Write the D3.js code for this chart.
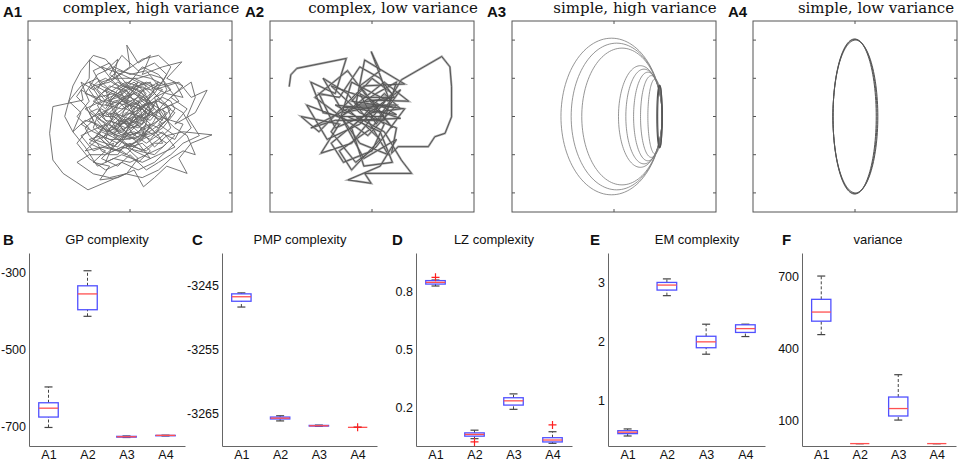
<!DOCTYPE html>
<html>
<head>
<meta charset="utf-8">
<script src="https://d3js.org/d3.v7.min.js"></script>
<style>
  body { margin: 0; background: #fff; }
  text { font-family: "Liberation Sans", Arial, sans-serif; }
</style>
</head>
<body>
<svg id="svgMain" width="959" height="463"></svg>
<script>
// ---------- data ----------
const cats = ["A1", "A2", "A3", "A4"];

// trajectories (units, box spans -2.5..2.5)
const a1Path = [[0.1,0.2],[-0.3,0.5],[0.2,0.9],[-0.1,0.4],[-0.6,0.7],[-0.4,0.1],[0.3,-0.2],[0.6,0.3],[0.2,0.6],[0.7,0.9],[0.4,0.4],[0.9,0.1],[0.5,-0.3],[0.1,-0.6],[-0.4,-0.3],[-0.8,0.1],[-0.5,0.6],[-1.0,0.9],[-0.7,0.4],[-1.1,0.2],[-0.6,-0.2],[-0.9,-0.6],[-0.3,-0.8],[0.0,-0.4],[0.4,-0.7],[0.8,-0.4],[1.1,-0.8],[0.7,-1.0],[0.3,-1.2],[-0.2,-1.0],[-0.6,-1.2],[-0.4,-0.7],[-0.9,-0.9],[-1.2,-0.5],[-0.8,-0.3],[-1.1,0.3],[-1.31,0.52],[-1.0,1.0],[-0.99,1.48],[-0.6,1.2],[-0.3,1.5],[-0.4,1.0],[0.0,1.3],[-0.08,1.87],[0.2,1.4],[0.5,1.6],[0.3,1.1],[0.8,1.3],[1.27,1.43],[0.9,1.0],[1.3,0.8],[1.0,0.5],[1.4,0.2],[1.1,-0.2],[1.6,0.1],[1.89,0.69],[1.5,0.5],[1.2,0.9],[0.6,0.7],[0.3,0.2],[-0.2,0.0],[0.0,0.6],[-0.4,0.9],[-0.7,1.3],[-0.2,1.1],[0.4,0.8],[0.1,0.4],[0.5,0.0],[0.2,-0.3],[-0.3,-0.1],[-0.1,-0.5],[0.3,-0.4],[0.6,-0.8],[0.9,-0.5],[1.3,-0.4],[2.01,-0.48],[1.5,-0.7],[1.2,-1.1],[1.40,-1.49],[0.9,-1.3],[0.6,-1.6],[0.33,-1.84],[0.1,-1.4],[-0.3,-1.6],[-0.74,-1.66],[-0.5,-1.3],[-0.9,-1.2],[-0.6,-0.9],[-1.0,-0.7],[-0.7,-0.4],[-0.3,-0.6],[0.1,-0.9],[0.5,-1.1],[0.2,-0.7],[-0.2,-0.3],[-0.5,-0.5],[-0.8,-0.1],[-0.4,0.3],[-0.9,0.5],[-1.2,0.7],[-1.15,0.43],[-1.89,0.26],[-1.97,-0.44],[-1.89,-1.14],[-1.64,-1.49],[-1.03,-1.92],[-0.08,-1.49],[0.2,-1.1],[-0.1,-0.8],[0.4,-0.5],[0.1,-0.1],[0.5,0.2],[0.2,0.5],[-0.2,0.3],[-0.5,0.0],[-0.3,-0.4],[0.1,-0.2],[0.4,0.1],[0.8,-0.1],[0.6,0.5],[1.0,0.7],[0.7,1.1],[0.3,1.3],[0.0,0.9],[-0.3,0.6],[-0.7,0.8],[-0.9,1.2],[-0.5,1.4],[-0.2,0.8],[0.2,0.7],[0.5,0.4],[0.3,0.0],[-0.1,0.1],[-0.4,-0.2],[-0.7,-0.6],[-0.4,-0.9],[0.0,-0.7],[0.3,-0.9],[0.7,-0.6],[1.0,-0.3],[0.8,0.2],[1.2,0.4],[0.9,0.8],[0.5,1.0],[0.1,1.1],[-0.3,1.2],[-0.6,0.9],[-0.9,0.7],[-1.2,0.9],[-1.0,0.4],[-1.3,0.0],[-1.0,-0.3],[-1.3,-0.7],[-1.0,-1.1],[-0.6,-1.4],[-0.2,-1.2],[0.2,-1.4],[0.6,-1.2],[0.9,-0.9],[1.2,-0.6],[1.5,-0.3],[1.3,0.1],[1.0,0.3],[0.6,0.1],[0.2,-0.1],[-0.1,0.3],[-0.5,0.4],[-0.2,0.7],[0.1,0.9],[0.4,0.6],[0.0,0.2],[-0.3,-0.2],[0.0,-0.5],[0.4,-0.3],[0.7,-0.1],[0.4,0.3],[0.1,0.0],[-0.2,-0.6],[-0.6,-0.3],[-0.3,0.1],[0.1,0.4],[-0.1,0.7],[-0.5,0.5],[-0.8,0.3],[-0.6,-0.1],[-0.2,-0.2],[0.2,0.1],[0.5,-0.2],[0.3,-0.6],[-0.1,-1.0],[-0.5,-0.8],[-0.8,-0.5],[-0.5,-0.1],[-0.1,-0.3],[0.3,0.3],[0.7,0.4],[1.1,0.1],[0.8,-0.3],[0.5,-0.5],[0.1,-0.7],[-0.3,-0.9],[-0.7,-0.8],[-1.1,-0.9],[-0.8,-0.6],[-0.4,-0.4],[0.0,0.0],
  [0.3,0.5],[-0.1,0.8],[-0.5,1.1],[-0.2,1.6],[0.2,1.2],[0.6,1.4],[0.9,1.1],[0.6,0.6],[1.0,0.2],[0.7,-0.2],[1.1,-0.5],[0.8,-0.8],[0.4,-1.0],[0.0,-1.2],[-0.4,-1.1],[-0.8,-1.3],[-1.1,-0.8],[-1.4,-0.4],[-1.2,0.1],[-1.5,0.4],[-1.2,0.8],[-0.8,1.0],[-0.5,0.7],[-0.1,0.5],[0.3,0.7],[0.6,0.2],[0.3,-0.1],[-0.1,-0.2],[-0.4,0.0],[-0.7,0.2],[-1.0,-0.1],[-0.7,-0.3],[-0.3,-0.5],[0.1,-0.4],[0.5,-0.6],[0.8,-0.2],[0.5,0.1],[0.2,0.4],[-0.2,0.2],[-0.6,0.3],[-0.3,0.7],[0.1,1.0],[0.5,0.8],[0.9,0.6],[1.3,0.5],[1.1,0.9],[0.7,0.8],[0.4,1.2],[0.0,1.1],[-0.4,1.3],[-0.8,1.1],[-1.1,0.6],[-0.8,0.5],[-0.4,0.6],[0.0,0.4],[0.4,0.2],[0.7,0.0],[1.0,-0.1],[1.3,-0.2],[1.1,-0.6],[0.7,-0.4],[0.3,-0.5],[-0.1,-0.6],[-0.5,-0.6],[-0.9,-0.4],[-1.2,-0.2],[-0.9,0.0],[-0.5,0.2],[-0.2,0.4],[0.2,0.2],[0.5,0.4],[0.8,0.7],[0.4,0.9],[0.0,0.7],[-0.3,0.9],[-0.7,0.6],[-1.0,0.2],[-0.7,-0.1],[-0.4,-0.3],[0.0,-0.1],[0.3,-0.3],[0.6,-0.5],[0.9,-0.7],[0.6,-1.0],[0.2,-0.9],[-0.2,-0.8],[-0.6,-1.0],[-1.0,-1.0],[-1.3,-1.2],[-0.9,-1.5],[-0.5,-1.6],[-0.1,-1.5],[0.3,-1.6],[0.7,-1.4],[1.0,-1.1],[1.3,-0.9],[1.6,-1.0],[1.4,-0.5],[1.1,-0.3],[0.8,0.0],[0.5,0.3],[0.1,0.6],[-0.2,1.0],[-0.6,1.5],[-0.9,1.6],[-1.2,1.2],[-1.4,0.8],[-1.6,0.0],[-1.4,-0.4],[-1.1,-0.1],[-0.8,-0.2],[-0.5,-0.4],[-0.2,-0.1],[0.2,0.0],[0.5,-0.1],[0.8,0.3],[1.1,0.6],[1.5,0.9],[1.6,0.5],[1.4,0.0],[1.7,-0.5],[1.3,-0.7],[1.0,-1.0],[0.7,-1.2],[0.4,-1.4],[0.0,-1.0],[-0.3,-1.3],[-0.7,-1.1],[-0.4,-0.8],[-0.1,-0.4],[0.2,-0.2],[0.0,0.3],[-0.3,0.5],[-0.6,0.4],[-0.9,0.8],[-0.5,0.9],[-0.1,1.2],[0.3,1.5],[0.7,1.6],[1.0,1.3],[0.8,0.9],[0.5,0.7],[0.1,0.8],[-0.3,0.3],[-0.5,-0.2],[-0.2,-0.5],[0.2,-0.6],[0.6,-0.3],[0.9,-0.1],[0.6,0.4],[0.3,0.1],[0.0,-0.2],[-0.4,0.1],[-0.7,0.0],[-0.4,0.4],[0.0,0.5],[0.3,0.9],[0.7,0.5],[0.4,0.0],[0.1,-0.3],[-0.3,-0.7],[-0.7,-0.5],[-1.0,-0.6],[-0.6,-0.8],[-0.2,-0.9],[0.2,-1.2],[0.5,-0.9],[0.3,-0.7],[0.0,-0.8],[-0.4,-0.5],[-0.1,0.0],
  [0.2,0.3],[0.4,0.1],[0.3,-0.2],[0.0,-0.3],[-0.2,-0.1],[-0.4,0.2],[-0.2,0.5],[0.1,0.6],[0.4,0.4],[0.6,0.6],[0.5,0.9],[0.2,0.8],[-0.1,0.9],[-0.4,0.7],[-0.6,0.5],[-0.8,0.7],[-0.7,0.9],[-0.4,1.0],[-0.1,1.0],[0.2,1.0],[0.5,1.1],[0.8,1.0],[0.9,0.7],[0.7,0.4],[0.9,0.3],[1.0,0.0],[0.8,-0.2],[0.6,-0.4],[0.4,-0.2],[0.2,-0.4],[0.0,-0.6],[-0.3,-0.5],[-0.5,-0.7],[-0.7,-0.5],[-0.9,-0.3],[-0.8,0.0],[-0.6,0.1],[-0.4,-0.1],[-0.2,0.1],[0.0,0.3],[0.3,0.2],[0.5,0.0],[0.7,0.2],[0.6,-0.1],[0.4,-0.4],[0.2,-0.6],[0.0,-0.8],[-0.2,-0.6],[-0.4,-0.8],[-0.6,-0.6],[-0.5,-0.3],[-0.3,-0.2],[-0.1,-0.4],[0.1,-0.1],[0.3,0.0],[0.2,0.4],[0.0,0.5],[-0.2,0.7],[-0.5,0.8],[-0.7,0.6],[-0.9,0.4],[-0.7,0.3],[-0.5,0.3],[-0.3,0.4],[-0.1,0.2],[0.1,0.1],[0.3,-0.1],[0.5,-0.3],[0.7,-0.5],[0.8,-0.7],[0.6,-0.7],[0.4,-0.9],[0.1,-0.8],[-0.1,-0.7],[-0.3,-1.0],[-0.5,-1.0],[-0.7,-0.9],[-0.8,-0.7],[-1.0,-0.5],[-1.1,-0.3],[-0.9,-0.1],[-1.0,0.1],[-0.8,0.2],[-0.6,0.0],[-0.4,0.0],[-0.2,-0.2],[0.0,0.0],[0.2,0.2],[0.4,0.3],[0.6,0.4],[0.8,0.5],[1.0,0.4],[1.1,0.2],[0.9,-0.1],[0.7,-0.3],[0.5,-0.2],[0.3,-0.3],[0.1,-0.5],[-0.1,-0.2],[-0.3,0.0],[-0.5,0.1],[-0.3,0.3],[-0.1,0.5],[0.1,0.7],[0.3,0.8],[0.5,0.6],[0.3,0.4],[0.1,0.3],[-0.1,0.4],[-0.3,0.8],[-0.6,1.0],[-0.8,0.9],[-1.0,0.7],[-0.8,0.4],[-0.6,0.2],[-0.4,0.5],[-0.2,0.6],[0.0,0.8],[0.3,0.6],[0.5,0.2],[0.3,-0.5],[0.1,-0.3],[-0.1,-0.1],[-0.3,-0.3],[-0.6,-0.4],[-0.8,-0.3],[-0.6,-0.2],[-0.4,-0.5],[-0.2,-0.4],[0.0,-0.2],[0.2,0.0]];

const a2Path = [[-2.03,0.78],[-1.99,1.09],[-1.84,1.26],[-0.63,1.52],[-0.9,0.6],[-1.5,0.9],[-1.2,0.1],[-0.76,0.0],[0.3,0.0],[-0.3,0.8],[0.2,1.2],[-0.02,1.70],[0.4,0.5],[-0.5,-0.7],[-1.25,-0.96],[-0.8,-0.2],[-1.74,0.0],[-1.3,-0.4],[-0.2,0.8],[0.8,0.85],[-0.18,1.48],[-0.4,0.3],[0.6,0.3],[-0.1,-0.5],[-0.76,0.0],[-1.4,0.5],[-0.6,1.2],[0.1,0.2],[0.5,-0.3],[-0.02,0.43],[0.9,0.4],[0.3,0.9],[-0.76,0.0],[-0.2,-1.1],[0.6,-0.6],[0.2,-1.3],[-0.59,-1.66],[-0.02,-1.75],[-0.18,-1.49],[0.97,-1.49],[0.72,-1.14],[0.3,-0.4],[-0.9,0.3],[0.0,0.2],[0.7,-0.05],[-0.6,-0.1],[-1.6,0.3],[-1.1,-0.6],[-0.3,-0.2],[0.5,0.6],[0.0,1.0],[-0.5,0.4],[0.8,0.2],[0.1,-0.8],[-0.4,-1.2],[-1.0,-0.4],[-0.76,0.0],[-0.5,0.9],[0.4,0.4],[0.72,0.96],[1.71,1.57],[1.91,1.30],[1.95,0.78],[1.95,-0.01],[1.79,-0.44],[1.54,-0.53],[1.38,-0.79],[0.64,-0.79],[0.48,-0.96],[0.6,-0.3],[-0.3,0.1],[-1.0,0.8],[-0.2,0.5],[0.5,0.5],[0.0,-0.3],[-0.8,-0.9],[-0.5,-1.4],[0.2,-0.6],[-0.6,0.2],[-1.5,-0.3],[-0.9,-0.1],[0.3,-0.1],[0.6,0.9],[0.1,0.6],[-0.76,0.0],[-0.3,-0.7],[0.4,-1.0],[-0.1,-0.1],[-0.6,0.6],[-1.2,1.0],[-0.7,0.1],[0.2,0.3],
  [0.5,0.25],[-0.7,0.25],[0.6,0.05],[-0.3,0.6],[0.1,-0.2],[0.7,0.7],[-0.2,0.0],[-1.0,-0.7],[-0.7,-1.2],[0.0,-0.9],[0.3,-0.2],[-0.4,0.35],[0.55,0.5],[0.2,1.0],[-0.3,1.3],[-0.8,0.5],[-1.3,0.6],[-0.9,-0.3],[0.0,0.1],[0.7,0.2],[0.3,0.6],[-0.5,-0.3],[-0.2,-1.3],[0.5,-1.2],[0.2,-0.4],[-0.6,0.0]];

// A3: decaying orbits, left edge and half-height of each loop (right edge shared)
const a3Left = [-1.30, -1.05, -0.79, 0.11, 0.29, 0.48, 0.65, 0.83, 1.05, 1.07];
const a3Half = [2.05, 1.92, 1.79, 1.33, 1.24, 1.16, 1.07, 0.98, 0.82, 0.80];
const a3Right = 1.18;
// A4: limit cycle, a few overlapping loops [cx, rx, ry]
const a4Loops = [[0.0, 0.54, 2.02], [0.01, 0.55, 2.0], [-0.01, 0.53, 2.03]];

const topTitles = ["complex, high variance", "complex, low variance", "simple, high variance", "simple, low variance"];

// box stats: [lower whisker, q1, median, q3, upper whisker]
const gpStats  = [[-702, -675, -652, -638, -597], [-414, -397, -356, -335, -296], [-728, -727, -726, -725, -724], [-724, -723.5, -722.5, -722.5, -722]];
const pmpStats = [[-3248.4, -3247.5, -3246.8, -3246.35, -3246.2], [-3266.1, -3265.8, -3265.67, -3265.5, -3265.3], [-3266.95, -3266.9, -3266.85, -3266.8, -3266.75], [-3267.1, -3267.1, -3267.1, -3267.1, -3267.1]];
const lzStats  = [[0.829, 0.839, 0.848, 0.857, 0.86], [0.038, 0.051, 0.06, 0.068, 0.082], [0.19, 0.212, 0.234, 0.25, 0.27], [0.014, 0.021, 0.031, 0.043, 0.074]];
const emStats  = [[0.39, 0.43, 0.455, 0.48, 0.51], [2.775, 2.87, 2.955, 3.0, 3.06], [1.78, 1.89, 1.99, 2.085, 2.29], [2.08, 2.15, 2.215, 2.28, 2.29]];
const varStats = [[456, 512, 550, 603, 700], [2, 2, 2, 2, 2], [100, 117, 148, 196, 289], [2, 2, 2, 2, 2]];

// outliers [category index, value]
const gpOut  = [];
const pmpOut = [[3, -3267.1]];
const lzOut  = [[0, 0.874], [1, 0.021], [3, 0.109]];
const emOut  = [];
const varOut = [];

const gpTicks  = [-700, -500, -300];
const pmpTicks = [-3265, -3255, -3245];
const lzTicks  = [0.2, 0.5, 0.8];
const emTicks  = [1, 2, 3];
const varTicks = [100, 400, 700];

// ---------- drawing ----------
const svg = d3.select("#svgMain");

// top row: trajectory panels
const topBoxes = [28, 270, 512, 753];
const topW = 204, topY0 = 21, topY1 = 212;

const ellipsePath = (cx, rx, ry, xs, ys) => {
    const p = d3.path();
    const n = 120;
    for (let i = 0; i <= n; i++) {
        const a = 2 * Math.PI * i / n;
        const px = xs(cx + rx * Math.cos(a)), py = ys(ry * Math.sin(a));
        if (i === 0) p.moveTo(px, py); else p.lineTo(px, py);
    }
    return p.toString();
};

topBoxes.forEach((x0, k) => {
    const xs = d3.scaleLinear().domain([-2.5, 2.5]).range([x0, x0 + topW]);
    const ys = d3.scaleLinear().domain([-2.5, 2.5]).range([topY1, topY0]);
    const g = svg.append("g");

    const clipId = "clip" + k;
    g.append("clipPath").attr("id", clipId).append("rect")
        .attr("x", x0).attr("y", topY0).attr("width", topW).attr("height", topY1 - topY0);
    const inner = g.append("g").attr("clip-path", "url(#" + clipId + ")");

    const line = d3.line().x(d => xs(d[0])).y(d => ys(d[1]));
    if (k === 0) {
        inner.append("path").attr("d", line(a1Path))
            .attr("fill", "none").attr("stroke", "#666").attr("stroke-width", 0.9);
    } else if (k === 1) {
        inner.append("path").attr("d", line(a2Path))
            .attr("fill", "none").attr("stroke", "#aaa").attr("stroke-width", 2.2);
        inner.append("path").attr("d", line(a2Path))
            .attr("fill", "none").attr("stroke", "#555").attr("stroke-width", 1.0);
    } else if (k === 2) {
        a3Left.forEach((l, i) => {
            const cx = (l + a3Right) / 2, rx = (a3Right - l) / 2;
            inner.append("path").attr("d", ellipsePath(cx, rx, a3Half[i], xs, ys))
                .attr("fill", "none").attr("stroke", i >= 8 ? "#555" : "#7a7a7a")
                .attr("stroke-width", i >= 8 ? 1.2 : 0.8);
        });
    } else {
        a4Loops.forEach(e => {
            inner.append("path").attr("d", ellipsePath(e[0], e[1], e[2], xs, ys))
                .attr("fill", "none").attr("stroke", "#555").attr("stroke-width", 1);
        });
    }

    // frame and ticks
    g.append("rect").attr("x", x0).attr("y", topY0).attr("width", topW).attr("height", topY1 - topY0)
        .attr("fill", "none").attr("stroke", "#555").attr("stroke-width", 1);
    [-2, -1, 0, 1, 2].forEach(t => {
        g.append("line").attr("x1", x0).attr("x2", x0 + 3).attr("y1", ys(t)).attr("y2", ys(t)).attr("stroke", "#555");
        g.append("line").attr("x1", x0 + topW - 3).attr("x2", x0 + topW).attr("y1", ys(t)).attr("y2", ys(t)).attr("stroke", "#555");
    });
    g.append("line").attr("x1", xs(0)).attr("x2", xs(0)).attr("y1", topY0).attr("y2", topY0 + 3).attr("stroke", "#555");
    g.append("line").attr("x1", xs(0)).attr("x2", xs(0)).attr("y1", topY1 - 3).attr("y2", topY1).attr("stroke", "#555");

    g.append("text").attr("x", x0 - 25).attr("y", 17).text("A" + (k + 1))
        .attr("font-weight", "bold").attr("font-size", 15).attr("fill", "#111");
    g.append("text").attr("x", xs(0) + 21).attr("y", 13).text(topTitles[k])
        .attr("text-anchor", "middle").attr("font-size", 15).attr("fill", "#111")
        .style("font-family", "'DejaVu Serif', serif");
});

// bottom row: box plots
const panels = [
    { letter: "B", title: "GP complexity",  stats: gpStats,  out: gpOut,  ticks: gpTicks,  domain: [-750, -250],   x0: 29,  x1: 185, lx: 3,   tx: 107 },
    { letter: "C", title: "PMP complexity", stats: pmpStats, out: pmpOut, ticks: pmpTicks, domain: [-3270, -3240], x0: 222, x1: 377, lx: 192, tx: 300 },
    { letter: "D", title: "LZ complexity",  stats: lzStats,  out: lzOut,  ticks: lzTicks,  domain: [0, 1],         x0: 416, x1: 572, lx: 392, tx: 494 },
    { letter: "E", title: "EM complexity",  stats: emStats,  out: emOut,  ticks: emTicks,  domain: [0.22, 3.5],    x0: 608, x1: 765, lx: 590, tx: 697 },
    { letter: "F", title: "variance",       stats: varStats, out: varOut, ticks: varTicks, domain: [-8, 796],      x0: 802, x1: 956, lx: 782, tx: 878 }
];
const plotTop = 253, plotBottom = 446;

panels.forEach(p => {
    const x = d3.scalePoint().domain(cats).range([p.x0, p.x1]).padding(0.5);
    const y = d3.scaleLinear().domain(p.domain).range([plotBottom, plotTop]);
    const g = svg.append("g");

    const yAxis = g.append("g").attr("transform", "translate(" + p.x0 + ",0)")
        .call(d3.axisLeft(y).tickValues(p.ticks).tickSize(0).tickPadding(3).tickFormat(d => String(d)));
    const xAxis = g.append("g").attr("transform", "translate(0," + plotBottom + ")")
        .call(d3.axisBottom(x).tickSize(0).tickPadding(4));
    [yAxis, xAxis].forEach(a => {
        a.select(".domain").attr("stroke", "#666").attr("stroke-width", 1);
        a.selectAll("text").attr("font-size", 12.5).attr("fill", "#111")
            .style("font-family", "'Liberation Sans', Arial, sans-serif");
    });

    const bw = x.step() * 0.5, cw = 8;
    p.stats.forEach((s, i) => {
        const cx = x(cats[i]);
        // whiskers
        g.append("line").attr("x1", cx).attr("x2", cx).attr("y1", y(s[0])).attr("y2", y(s[1]))
            .attr("stroke", "#444").attr("stroke-dasharray", "3,2");
        g.append("line").attr("x1", cx).attr("x2", cx).attr("y1", y(s[3])).attr("y2", y(s[4]))
            .attr("stroke", "#444").attr("stroke-dasharray", "3,2");
        [s[0], s[4]].forEach(v => {
            g.append("line").attr("x1", cx - cw / 2).attr("x2", cx + cw / 2).attr("y1", y(v)).attr("y2", y(v))
                .attr("stroke", "#444").attr("stroke-width", 1.2);
        });
        // box
        g.append("rect").attr("x", cx - bw / 2).attr("width", bw)
            .attr("y", y(s[3])).attr("height", Math.max(0, y(s[1]) - y(s[3])))
            .attr("fill", "none").attr("stroke", "#5050ff").attr("stroke-width", 1.3);
        // median
        g.append("line").attr("x1", cx - bw / 2).attr("x2", cx + bw / 2).attr("y1", y(s[2])).attr("y2", y(s[2]))
            .attr("stroke", "#ff5050").attr("stroke-width", 1.3);
    });
    p.out.forEach(o => {
        const cx = x(cats[o[0]]), cy = y(o[1]);
        g.append("path").attr("d", "M" + (cx - 4) + "," + cy + "H" + (cx + 4) + "M" + cx + "," + (cy - 4) + "V" + (cy + 4))
            .attr("stroke", "#ff2020").attr("stroke-width", 1.2);
    });

    g.append("text").attr("x", p.lx).attr("y", 245).text(p.letter)
        .attr("font-weight", "bold").attr("font-size", 15).attr("fill", "#111");
    g.append("text").attr("x", p.tx).attr("y", 244).text(p.title)
        .attr("text-anchor", "middle").attr("font-size", 13).attr("fill", "#111");
});
</script>
</body>
</html>
